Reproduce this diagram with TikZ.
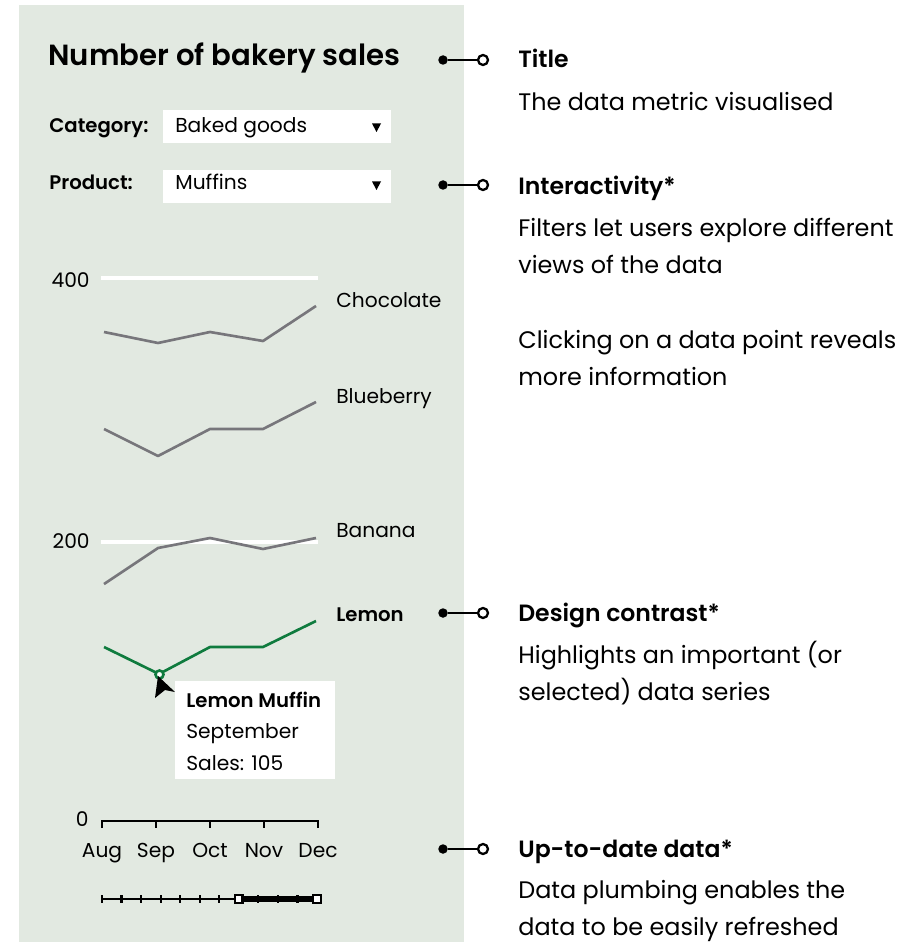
\documentclass[tikz,border=0pt]{standalone}
\usepackage{xcolor}
\usepackage{fontspec}
\setmainfont{Poppins}[BoldFont={Poppins SemiBold}]
\usepackage{tikz}
\definecolor{BG}{HTML}{E2E9E1}
\definecolor{GR}{HTML}{77767B}
\definecolor{LM}{HTML}{0F7B3E}
\tikzset{
  txt/.style={anchor=base west, inner sep=0pt, font=\fontsize{11.5}{13}\selectfont},
  btxt/.style={txt, font=\fontsize{11.2}{13}\selectfont\bfseries},
  note/.style={anchor=base west, inner sep=0pt, font=\fontsize{13.6}{16}\selectfont},
  bnote/.style={note, font=\fontsize{13.4}{16}\selectfont\bfseries},
  series/.style={GR, line width=1.5pt, line join=round},
  pin/.style={circle, fill=black, inner sep=0pt, minimum size=0.19cm},
  ring/.style={circle, draw=black, fill=white, line width=1.3pt, inner sep=0pt, minimum size=0.2cm},
  link/.style={line width=1.3pt},
}
\begin{document}
\begin{tikzpicture}[x=0.02cm, y=-0.02cm]%
\useasboundingbox (0,0) rectangle (920,942);%
\fill[BG] (19,5) rectangle (464,942);%
% heading and filters
\node[anchor=base west, inner sep=0pt, font=\fontsize{16.6}{19}\selectfont\bfseries] (title) at (48,66) {Number of bakery sales};%
\node[btxt] (catlbl) at (49,133) {Category:};%
\node[fill=white, minimum width=4.56cm, minimum height=0.66cm, inner sep=0pt] (catbox) at (277,126.5) {};%
\node[txt] (catval) at (175,133) {Baked goods};%
\fill (372,123.5) -- (381,123.5) -- (376.5,132) -- cycle;%
\node[btxt] (prodlbl) at (49,190) {Product:};%
\node[fill=white, minimum width=4.56cm, minimum height=0.66cm, inner sep=0pt] (prodbox) at (277,186.5) {};%
\node[txt] (prodval) at (175,190) {Muffins};%
\fill (372,181.5) -- (381,181.5) -- (376.5,190) -- cycle;%
% grid and y labels
\draw[white, line width=2.4pt] (101,278) -- (318,278);%
\draw[white, line width=2.4pt] (101,542) -- (318,542);%
\node[anchor=east, inner sep=0pt, font=\fontsize{11.5}{13}\selectfont] (y400) at (90,280) {400};%
\node[anchor=east, inner sep=0pt, font=\fontsize{11.5}{13}\selectfont] (y200) at (90,541) {200};%
\node[anchor=east, inner sep=0pt, font=\fontsize{11.5}{13}\selectfont] (y0) at (89,819) {0};%
% series
\draw[series] plot coordinates {(104,332) (158,343) (210,332) (263,341) (316,306)};%
\draw[series] plot coordinates {(104,429) (158,456) (210,429) (263,429) (316,402)};%
\draw[series] plot coordinates {(104,584) (158,548) (210,538) (263,549) (316,538)};%
\draw[series, LM] plot coordinates {(104,647) (159,674) (210,647) (263,647) (316,621)};%
\node[txt] (choc) at (336,307) {Chocolate};%
\node[txt] (blue) at (336,403) {Blueberry};%
\node[txt] (bana) at (336,537) {Banana};%
\node[btxt] (lemon) at (336,621) {Lemon};%
% selected point and tooltip
\node[circle, draw=LM, fill=white, line width=1.5pt, minimum size=0.16cm, inner sep=0pt] (sel) at (159.5,674.5) {};%
\fill (158,676) -- (175,692) -- (165,690) -- (155,698) -- cycle;%
\node[fill=white, minimum width=3.2cm, minimum height=1.96cm, inner sep=0pt] (tip) at (255,730) {};%
\node[btxt] (tiphead) at (186,707) {Lemon Muffin};%
\node[txt] (tipmonth) at (186,738) {September};%
\node[txt] (tipsales) at (186,770) {Sales: 105};%
% x axis
\draw[line width=1.6pt] (102,828) -- (102,821) -- (318,821) -- (318,828);%
\foreach \x in {156,210,264} \draw[line width=1.6pt] (\x,821) -- (\x,828);%
\foreach \x/\m in {102/Aug,156/Sep,210/Oct,264/Nov,318/Dec}
  \node[anchor=base, inner sep=0pt, font=\fontsize{11.5}{13}\selectfont] (m\m) at (\x,857) {\m};%
% range slider
\draw[line width=1.2pt] (102,899) -- (239,899);%
\foreach \i in {0,...,10} \draw[line width=1.2pt] ({102+\i*19.55},895) -- ({102+\i*19.55},903);%
\node[draw, fill=white, line width=1.2pt, minimum size=0.15cm, inner sep=0pt] (hlo) at (238.8,899) {};%
\node[draw, fill=white, line width=1.2pt, minimum size=0.15cm, inner sep=0pt] (hhi) at (317,899) {};%
\draw[line width=3pt] (hlo) -- (hhi);%
% notes
\node[pin] (p1) at (443,60) {};%
\node[ring] (r1) at (483,60) {};%
\draw[link] (p1) -- (r1);%
\node[bnote] (n1) at (518,68) {Title};%
\node[note] (n1a) at (518,111) {The data metric visualised};%
\node[pin] (p2) at (443,185) {};%
\node[ring] (r2) at (483,185) {};%
\draw[link] (p2) -- (r2);%
\node[bnote] (n2) at (518,195) {Interactivity*};%
\node[note] (n2a) at (518,237) {Filters let users explore different};%
\node[note] (n2b) at (518,274) {views of the data};%
\node[note] (n2c) at (518,348) {Clicking on a data point reveals};%
\node[note] (n2d) at (518,385) {more information};%
\node[pin] (p3) at (443,613) {};%
\node[ring] (r3) at (483,613) {};%
\draw[link] (p3) -- (r3);%
\node[bnote] (n3) at (518,621) {Design contrast*};%
\node[note] (n3a) at (518,663) {Highlights an important (or};%
\node[note] (n3b) at (518,700) {selected) data series};%
\node[pin] (p4) at (443,849) {};%
\node[ring] (r4) at (483,849) {};%
\draw[link] (p4) -- (r4);%
\node[bnote] (n4) at (518,857) {Up-to-date data*};%
\node[note] (n4a) at (518,898) {Data plumbing enables the};%
\node[note] (n4b) at (518,935) {data to be easily refreshed};%
\end{tikzpicture}
\end{document}
